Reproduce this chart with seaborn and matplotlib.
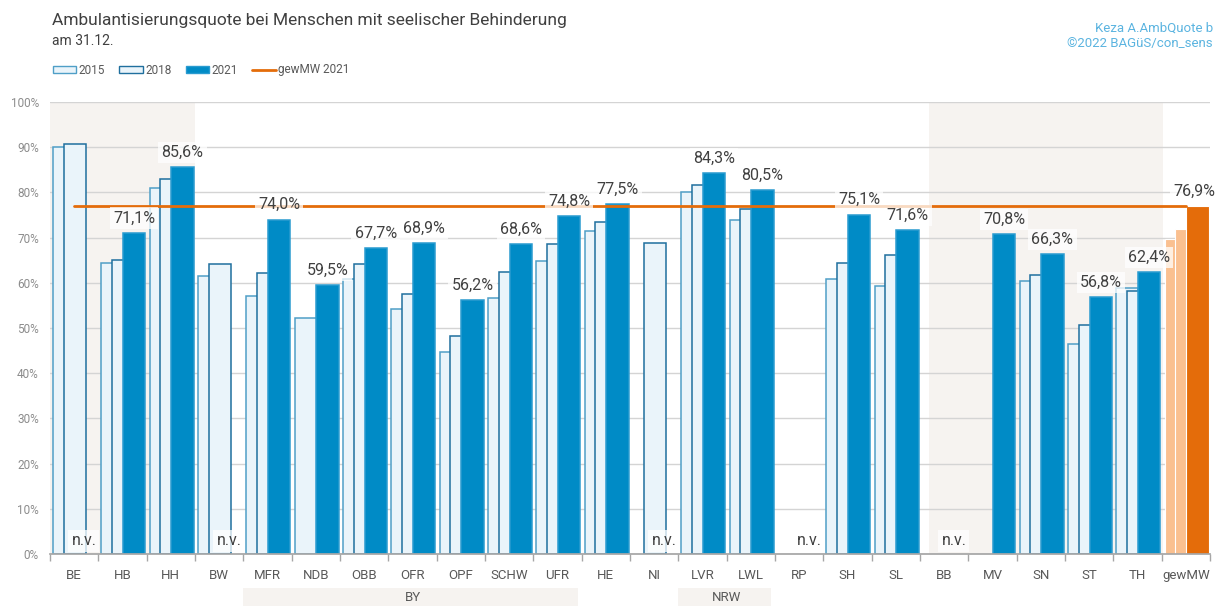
import numpy as np
import pandas as pd
import matplotlib
matplotlib.use('Agg')
import matplotlib.pyplot as plt
import matplotlib.transforms as mtransforms
from matplotlib.patches import Patch, Rectangle
from matplotlib.lines import Line2D
import seaborn as sns

nan = np.nan

# Daten
regionen = ['BE', 'HB', 'HH', 'BW', 'MFR', 'NDB', 'OBB', 'OFR', 'OPF', 'SCHW', 'UFR', 'HE',
            'NI', 'LVR', 'LWL', 'RP', 'SH', 'SL', 'BB', 'MV', 'SN', 'ST', 'TH', 'gewMW']
quote_2015 = [90.0, 64.3, 80.9, 61.4, 57.1, 52.3, 60.8, 54.1, 44.7, 56.6, 64.9, 71.5,
              nan, 80.0, 73.8, nan, 60.9, 59.4, nan, nan, 60.3, 46.5, 58.8, 69.7]
quote_2018 = [90.6, 65.0, 83.0, 64.1, 62.2, nan, 64.2, 57.5, 48.2, 62.3, 68.5, 73.4,
              68.9, 81.6, 76.3, nan, 64.3, 66.2, nan, nan, 61.7, 50.7, 58.2, 71.8]
quote_2021 = [nan, 71.1, 85.6, nan, 74.0, 59.5, 67.7, 68.9, 56.2, 68.6, 74.8, 77.5,
              nan, 84.3, 80.5, nan, 75.1, 71.6, nan, 70.8, 66.3, 56.8, 62.4, 76.9]
gewmw_2021 = 76.9
nicht_vorhanden = ['BE', 'BW', 'NI', 'RP', 'BB']
gruppen = [('BY', 'MFR', 'UFR'), ('NRW', 'LVR', 'LWL')]

sns.set_theme(style='white')
plt.rcParams['font.family'] = ['Roboto', 'DejaVu Sans']

text_farbe = '#404040'
hell = '#EAF4FA'
blau = '#008BC6'
orange = '#E46C0A'
orange_hell = '#FAC090'
beige = '#F6F3F0'

fig = plt.figure(figsize=(12.15, 6.06), dpi=100)
ax = fig.add_axes([50 / 1215, 1 - 554 / 606, 1160 / 1215, 452 / 606])

# Hintergrundflächen
ax.axvspan(-0.5, 2.5, color=beige, zorder=0, lw=0)
ax.axvspan(17.69, 22.53, color=beige, zorder=0, lw=0)

df = pd.DataFrame({'region': regionen, 'pos': np.arange(len(regionen)),
                   '2015': quote_2015, '2018': quote_2018, '2021': quote_2021})
serien = [('2015', -0.21, hell, '#4F9FC7', orange_hell),
          ('2018', 0.01, hell, '#1F6F9E', orange_hell),
          ('2021', 0.24, blau, '#2A9BD0', orange)]
ist_mw = df['region'] == 'gewMW'
for jahr, versatz, fuell, rand, fuell_mw in serien:
    d = df[~ist_mw].dropna(subset=[jahr])
    sns.barplot(x=d['pos'] + versatz, y=d[jahr], native_scale=True, width=0.46,
                color=fuell, edgecolor=rand, linewidth=1.1, saturation=1,
                errorbar=None, ax=ax)
    d = df[ist_mw]
    sns.barplot(x=d['pos'] + versatz, y=d[jahr], native_scale=True, width=0.46,
                color=fuell_mw, edgecolor='white', linewidth=0.8, saturation=1,
                errorbar=None, ax=ax)

# Mittelwertlinie
sns.lineplot(x=np.arange(len(regionen)), y=[gewmw_2021] * len(regionen),
             color=orange, lw=2, ax=ax, zorder=3)

# Wertebeschriftungen
box = dict(boxstyle='square,pad=0.2', facecolor='white', edgecolor='none', alpha=0.75)
for i, w in enumerate(quote_2021):
    if np.isnan(w):
        continue
    xpos = i + 0.24 if regionen[i] != 'gewMW' else i + 0.17
    ax.text(xpos, w + 1.6, f'{w:.1f}%'.replace('.', ','), ha='center', va='bottom',
            fontsize=11.5, color=text_farbe, bbox=box, zorder=4)
for r in nicht_vorhanden:
    i = regionen.index(r)
    ax.text(i + 0.2, 2.9, 'n.v.', ha='center', va='center', fontsize=11.5,
            color=text_farbe, bbox=box, zorder=4)

ax.set_xlim(-0.5, len(regionen) - 0.5)
ax.set_ylim(0, 100)
ax.set_xlabel('')
ax.set_ylabel('')
ax.set_yticks(np.arange(0, 101, 10))
ax.set_yticklabels([f'{v}%' for v in range(0, 101, 10)])
ax.set_xticks(np.arange(len(regionen)))
ax.set_xticklabels(regionen)
ax.set_xticks(np.arange(-0.5, len(regionen), 1), minor=True)
ax.tick_params(axis='x', which='major', length=0, pad=11, labelsize=9.5, labelcolor='#595959')
ax.tick_params(axis='x', which='minor', length=5, color='#A6A6A6', width=1, bottom=True)
ax.tick_params(axis='y', length=0, pad=8, labelsize=8.5, labelcolor='#8C8C8C')
ax.grid(axis='y', color='#D4D4D4', lw=1)
ax.set_axisbelow(True)
for s in ['left', 'right', 'top']:
    ax.spines[s].set_visible(False)
ax.spines['bottom'].set_color('#A6A6A6')

# Gruppen unter der Achse
trans = mtransforms.blended_transform_factory(ax.transData, ax.transAxes)
for name, von, bis in gruppen:
    a = regionen.index(von) - 0.5
    b = regionen.index(bis) + 0.42
    ax.add_patch(Rectangle((a, -0.116), b - a, 0.041, transform=trans, color=beige,
                           clip_on=False, lw=0))
    ax.text((regionen.index(von) + regionen.index(bis)) / 2, -0.097, name, transform=trans,
            ha='center', va='center', fontsize=9.5, color='#595959')

# Titel und Quelle
fig.text(52 / 1215, 1 - 20 / 606, 'Ambulantisierungsquote bei Menschen mit seelischer Behinderung',
         fontsize=12.5, color=text_farbe, va='center')
fig.text(52 / 1215, 1 - 41 / 606, 'am 31.12.', fontsize=10, color=text_farbe, va='center')
fig.text(1213 / 1215, 1 - 28 / 606, 'Keza A.AmbQuote b', fontsize=9.5, color='#5BB4E0',
         ha='right', va='center')
fig.text(1213 / 1215, 1 - 44 / 606, '©2022 BAGüS/con_sens', fontsize=9.5, color='#5BB4E0',
         ha='right', va='center')

handles = [Patch(facecolor=hell, edgecolor='#4F9FC7', label='2015'),
           Patch(facecolor=hell, edgecolor='#1F6F9E', label='2018'),
           Patch(facecolor=blau, edgecolor='#2A9BD0', label='2021'),
           Line2D([0], [0], color=orange, lw=2, label='gewMW 2021')]
fig.legend(handles=handles, loc='center left', bbox_to_anchor=(42 / 1215, 1 - 70 / 606),
           ncol=4, frameon=False, fontsize=8.5, handlelength=2.0, handleheight=0.6,
           handletextpad=0.2, columnspacing=1.2, labelcolor='#595959')

fig.savefig('out.png', dpi=100)
